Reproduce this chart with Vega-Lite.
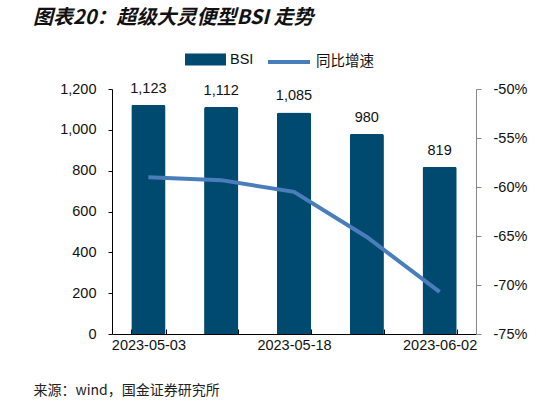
{
  "$schema": "https://vega.github.io/schema/vega-lite/v6.json",
  "autosize": "none",
  "width": 364,
  "height": 245,
  "padding": {"left": 112, "top": 89, "right": 83, "bottom": 70},
  "background": "white",
  "title": {
    "text": "图表20：超级大灵便型BSI 走势",
    "font": "Noto Sans CJK SC",
    "fontSize": 20,
    "fontWeight": "bold",
    "fontStyle": "italic",
    "color": "#111111",
    "anchor": "start",
    "frame": "group",
    "dx": -79,
    "offset": 11
  },
  "data": {
    "values": [
      {"date": "2023-05-03", "bsi": 1123, "yoy": -0.590},
      {"date": "2023-05-11", "bsi": 1112, "yoy": -0.593},
      {"date": "2023-05-18", "bsi": 1085, "yoy": -0.605},
      {"date": "2023-05-25", "bsi": 980, "yoy": -0.651},
      {"date": "2023-06-02", "bsi": 819, "yoy": -0.707}
    ]
  },
  "encoding": {
    "x": {
      "field": "date",
      "type": "ordinal",
      "scale": {"paddingInner": 0.53, "paddingOuter": 0.265},
      "axis": {
        "title": "来源：wind，国金证券研究所",
        "titleFont": "Noto Sans CJK SC",
        "titleFontSize": 14,
        "titleFontWeight": "normal",
        "titleColor": "#222222",
        "titleAnchor": "start",
        "titleAlign": "left",
        "titleBaseline": "middle",
        "titleX": -79,
        "titleY": 56,
        "labelAngle": 0,
        "labelFontSize": 14.5,
        "labelPadding": 9,
        "labelExpr": "indexof(['2023-05-03','2023-05-18','2023-06-02'], datum.value) >= 0 ? datum.value : ''",
        "tickBand": "extent",
        "tickSize": -5,
        "domainColor": "#000000",
        "tickColor": "#000000",
        "labelOverlap": false
      }
    }
  },
  "layer": [
    {
      "encoding": {
        "y": {
          "field": "bsi",
          "type": "quantitative",
          "scale": {"domain": [0, 1200], "nice": false},
          "axis": {
            "title": null,
            "values": [0, 200, 400, 600, 800, 1000, 1200],
            "format": ",.0f",
            "grid": false,
            "labelFontSize": 14.5,
            "labelPadding": 12,
            "tickSize": 4,
            "domainColor": "#000000",
            "tickColor": "#000000"
          }
        }
      },
      "layer": [
        {
          "mark": {"type": "bar", "color": "#004A70", "cornerRadiusTopLeft": 2, "cornerRadiusTopRight": 2},
          "encoding": {
            "fill": {
              "datum": "BSI",
              "scale": {"range": ["#004A70"]},
              "legend": {
                "title": null,
                "orient": "none",
                "legendX": 73,
                "legendY": -50,
                "symbolType": "M-1,-0.29H1V0.29H-1Z",
                "symbolSize": 1681,
                "symbolStrokeWidth": 0,
                "labelFontSize": 14.5,
                "labelOffset": 4
              }
            }
          }
        },
        {
          "mark": {"type": "text", "baseline": "bottom", "dy": -9, "fontSize": 14.5, "color": "#111111"},
          "encoding": {
            "text": {"field": "bsi", "type": "quantitative", "format": ",.0f"}
          }
        }
      ]
    },
    {
      "mark": {"type": "line", "strokeWidth": 4, "interpolate": "linear"},
      "encoding": {
        "y": {
          "field": "yoy",
          "type": "quantitative",
          "scale": {"domain": [-0.75, -0.5], "nice": false},
          "axis": {
            "orient": "right",
            "title": null,
            "values": [-0.75, -0.7, -0.65, -0.6, -0.55, -0.5],
            "format": ".0%",
            "labelExpr": "replace(datum.label, '−', '-')",
            "grid": false,
            "labelFontSize": 14.5,
            "labelPadding": 12,
            "tickSize": 5,
            "domainColor": "#888888",
            "tickColor": "#888888"
          }
        },
        "stroke": {
          "datum": "同比增速",
          "scale": {"range": ["#4A7EBB"]},
          "legend": {
            "title": null,
            "orient": "none",
            "legendX": 154,
            "legendY": -50,
            "symbolType": "stroke",
            "symbolSize": 1764,
            "symbolStrokeWidth": 4,
            "labelFontSize": 14.5,
            "labelOffset": 4
          }
        }
      }
    }
  ],
  "resolve": {"scale": {"y": "independent"}},
  "config": {
    "font": "Liberation Sans",
    "view": {"stroke": null},
    "axis": {"labelColor": "#111111", "labelFont": "Liberation Sans, Noto Sans CJK SC"},
    "legend": {"labelFont": "Liberation Sans, Noto Sans CJK SC", "labelColor": "#111111"}
  }
}
